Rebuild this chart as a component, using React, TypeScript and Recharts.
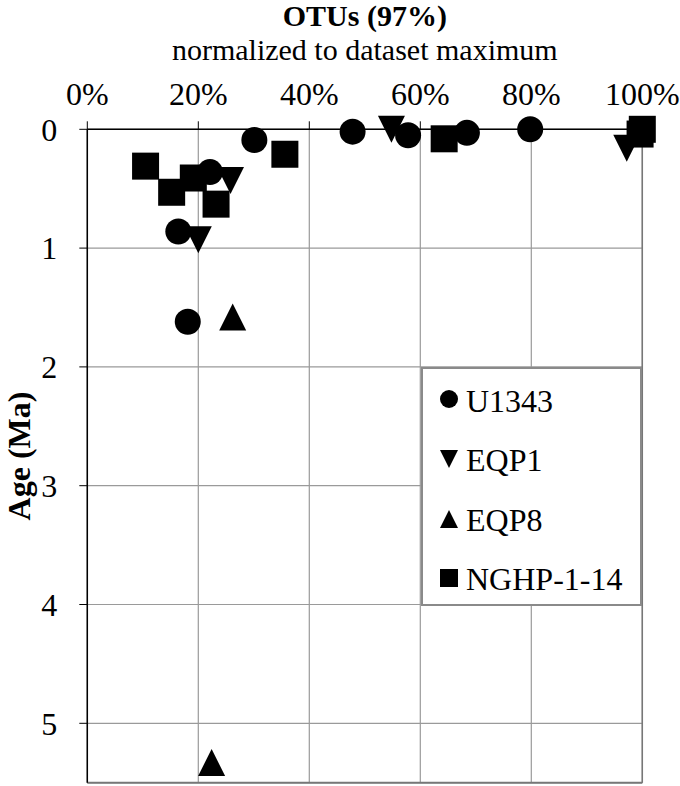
import { CartesianGrid, Legend, ReferenceLine, Scatter, ScatterChart, XAxis, YAxis } from 'recharts'

const xTicks = [0, 20, 40, 60, 80, 100]
const yTicks = [0, 1, 2, 3, 4, 5]

// OTUs (% of dataset max) vs age (Ma)
const u1343Otus = [30.1, 22.1, 16.4, 18.1, 47.8, 57.8, 68.4, 79.8]
const u1343Age = [0.09, 0.36, 0.86, 1.62, 0.02, 0.05, 0.03, 0.0]
const eqp1Otus = [54.8, 97.2, 25.8, 20.0]
const eqp1Age = [0.0, 0.16, 0.43, 0.93]
const eqp8Otus = [26.2, 22.4]
const eqp8Age = [1.58, 5.33]
const nghpOtus = [10.5, 15.2, 19.1, 23.2, 35.6, 64.3, 100, 99.6]
const nghpAge = [0.31, 0.53, 0.41, 0.63, 0.21, 0.08, 0.0, 0.04]

const FONT = '"Liberation Serif", "Times New Roman", serif'

type Kind = 'circle' | 'down' | 'up' | 'square'

const toPoints = (xs: number[], ys: number[]) => xs.map((x, i) => ({ x, y: ys[i] }))

const series: { name: string; kind: Kind; data: { x: number; y: number }[] }[] = [
  { name: 'U1343', kind: 'circle', data: toPoints(u1343Otus, u1343Age) },
  { name: 'EQP1', kind: 'down', data: toPoints(eqp1Otus, eqp1Age) },
  { name: 'EQP8', kind: 'up', data: toPoints(eqp8Otus, eqp8Age) },
  { name: 'NGHP-1-14', kind: 'square', data: toPoints(nghpOtus, nghpAge) },
]

function Marker({ cx, cy, kind, size }: { cx: number; cy: number; kind: Kind; size: number }) {
  const r = size / 2
  if (kind === 'circle') return <circle cx={cx} cy={cy} r={r} fill="#000" />
  if (kind === 'square') return <rect x={cx - r} y={cy - r} width={size} height={size} fill="#000" />
  if (kind === 'down')
    return <polygon points={`${cx - r},${cy - r} ${cx + r},${cy - r} ${cx},${cy + r}`} fill="#000" />
  return <polygon points={`${cx},${cy - r} ${cx + r},${cy + r} ${cx - r},${cy + r}`} fill="#000" />
}

const legendRows = [
  { c: 30, base: 43 },
  { c: 90, base: 102 },
  { c: 150, base: 162 },
  { c: 209, base: 221 },
]

function LegendBox() {
  return (
    <svg width={217} height={235}>
      {series.map((s, i) => (
        <g key={s.name}>
          <Marker cx={26} cy={legendRows[i].c} kind={s.kind} size={18} />
          <text x={43} y={legendRows[i].base} fontSize={32} fontFamily={FONT} fill="#000">
            {s.name}
          </text>
        </g>
      ))}
    </svg>
  )
}

export default function App() {
  return (
    <div style={{ position: 'absolute', left: 0, top: 0, width: 680, height: 786, background: '#fff' }}>
      <ScatterChart width={680} height={786} margin={{ top: 99.3, left: 47.3, right: 37.7, bottom: 3.3 }}>
        <CartesianGrid stroke="#9a9a9a" strokeWidth={1.2} />
        <XAxis
          type="number"
          dataKey="x"
          orientation="top"
          height={30}
          domain={[0, 100]}
          ticks={xTicks}
          interval={0}
          tickFormatter={(v) => `${v}%`}
          tick={{ fill: '#000', fontSize: 32, fontFamily: FONT }}
          axisLine={{ stroke: '#000', strokeWidth: 1.5 }}
          tickLine={{ stroke: '#000' }}
          tickSize={8}
          tickMargin={16}
        />
        <YAxis
          type="number"
          dataKey="y"
          width={40}
          domain={[0, 5.5]}
          reversed
          ticks={yTicks}
          interval={0}
          tick={{ fill: '#000', fontSize: 32, fontFamily: FONT }}
          axisLine={{ stroke: '#000', strokeWidth: 1.5 }}
          tickLine={{ stroke: '#000' }}
          tickSize={8}
          tickMargin={22}
        />
        <ReferenceLine y={5.5} stroke="#777" strokeWidth={2} />
        <ReferenceLine x={100} stroke="#777" strokeWidth={1.5} />
        {series.map((s) => (
          <Scatter
            key={s.name}
            name={s.name}
            data={s.data}
            isAnimationActive={false}
            shape={(p: any) => <Marker cx={p.cx} cy={p.cy} kind={s.kind} size={s.kind === 'circle' ? 26 : 27} />}
          />
        ))}
        <Legend
          layout="vertical"
          align="center"
          verticalAlign="middle"
          content={() => <LegendBox />}
          wrapperStyle={{
            left: 421,
            top: 367,
            width: 221,
            height: 239,
            border: '2px solid #8a8a8a',
            background: '#fff',
            boxSizing: 'border-box',
            lineHeight: 0,
          }}
        />
      </ScatterChart>
      <svg width={680} height={786} style={{ position: 'absolute', left: 0, top: 0, pointerEvents: 'none' }}>
        <text x={364.8} y={26} textAnchor="middle" fontSize={30} fontWeight="bold" fontFamily={FONT}>
          OTUs (97%)
        </text>
        <text x={364.8} y={60} textAnchor="middle" fontSize={30} fontFamily={FONT}>
          normalized to dataset maximum
        </text>
        <text
          transform="translate(30,456) rotate(-90)"
          textAnchor="middle"
          fontSize={32}
          fontWeight="bold"
          fontFamily={FONT}
        >
          Age (Ma)
        </text>
      </svg>
    </div>
  )
}
